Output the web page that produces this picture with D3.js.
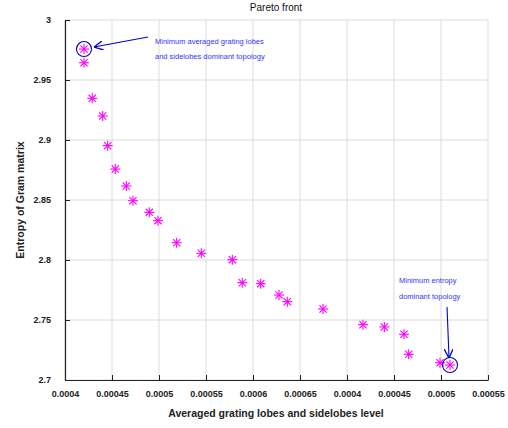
<!DOCTYPE html>
<html><head><meta charset="utf-8">
<script src="https://cdn.jsdelivr.net/npm/d3@7"></script>
<style>body{margin:0;background:#fff;}svg{display:block;font-family:"Liberation Sans",Arial,sans-serif;}</style>
</head><body>
<svg id="c" width="508" height="428"></svg>
<script>
const xValues = [0.0004202,0.0004202,0.000429,0.0004401,0.0004454,0.0004535,0.0004652,0.0004723,0.0004897,0.0004989,0.0005188,0.000545,0.000578,0.0005886,0.0006082,0.0006277,0.0006365,0.0006745,0.000717,0.0007397,0.0007606,0.0007656,0.0007989,0.0008096];
const yValues = [2.9758,2.9644,2.9347,2.9200,2.8953,2.8758,2.8617,2.8494,2.8397,2.8328,2.8144,2.8056,2.8003,2.7811,2.7803,2.7708,2.7653,2.7592,2.7461,2.7442,2.7381,2.7214,2.7144,2.7125];
const xTickValues = [0.0004,0.00045,0.0005,0.00055,0.0006,0.00065,0.0007,0.00075,0.0008,0.00085];
const xTickLabels = ["0.0004","0.00045","0.0005","0.00055","0.0006","0.00065","0.0004","0.00045","0.0005","0.00055"];
const yTickValues = [2.7,2.75,2.8,2.85,2.9,2.95,3];
const yTickLabels = ["2.7","2.75","2.8","2.85","2.9","2.95","3"];
const annotations = [
  {idx:0, lines:["Minimum averaged grating lobes","and sidelobes dominant topology"]},
  {idx:23, lines:["Minimum entropy","dominant topology"]}
];

const svg = d3.select("#c");
const x = d3.scaleLinear().domain([0.0004,0.00085]).range([65,488]);
const y = d3.scaleLinear().domain([2.7,3]).range([380,20]);

// grid
svg.append("g").selectAll("line").data(xTickValues).join("line")
  .attr("x1",d=>x(d)).attr("x2",d=>x(d)).attr("y1",20).attr("y2",380)
  .attr("stroke","#dcdcdc").attr("stroke-width",1);
svg.append("g").selectAll("line").data(yTickValues).join("line")
  .attr("y1",d=>y(d)).attr("y2",d=>y(d)).attr("x1",65).attr("x2",488)
  .attr("stroke","#dcdcdc").attr("stroke-width",1);

// axes
const xAxis = d3.axisBottom(x).tickValues(xTickValues).tickFormat((d,i)=>xTickLabels[i]).tickSizeInner(-5).tickSizeOuter(0).tickPadding(11);
const gx = svg.append("g").attr("transform","translate(0,380)").call(xAxis);
const yAxis = d3.axisLeft(y).tickValues(yTickValues).tickFormat((d,i)=>yTickLabels[i]).tickSizeInner(-5).tickSizeOuter(0).tickPadding(14);
const gy = svg.append("g").attr("transform","translate(65,0)").call(yAxis);
[gx,gy].forEach(g=>{
  g.select(".domain").attr("stroke","#222").attr("stroke-width",1.2);
  g.selectAll(".tick line").attr("stroke","#222");
  g.selectAll(".tick text").attr("fill","#222").attr("font-size","9px").attr("font-weight","bold");
});
gx.selectAll(".tick text").attr("dy","0.71em");

// markers (asterisks)
const r = 5;
const mk = svg.append("g").selectAll("g").data(xValues.map((v,i)=>[v,yValues[i]])).join("g")
  .attr("transform",d=>`translate(${x(d[0])},${y(d[1])})`)
  .attr("stroke","#ff00ff").attr("stroke-width",1.1);
[[ -r,0,r,0],[0,-r,0,r],[-r*0.72,-r*0.72,r*0.72,r*0.72],[-r*0.72,r*0.72,r*0.72,-r*0.72]].forEach(s=>{
  mk.append("line").attr("x1",s[0]).attr("y1",s[1]).attr("x2",s[2]).attr("y2",s[3]);
});

// annotations
const defs = svg.append("defs");
defs.append("marker").attr("id","ah").attr("viewBox","0 0 10 10").attr("refX",10).attr("refY",5)
  .attr("markerWidth",9).attr("markerHeight",9).attr("markerUnits","userSpaceOnUse").attr("orient","auto")
  .append("path").attr("d","M0,0 L10,5 L0,10").attr("fill","none").attr("stroke","#0000cc").attr("stroke-width",1.5);

const a0 = annotations[0], p0 = [x(xValues[a0.idx]), y(yValues[a0.idx])];
svg.append("circle").attr("cx",p0[0]).attr("cy",p0[1]).attr("r",7.5).attr("fill","none").attr("stroke","#0000cc").attr("stroke-width",1.1);
svg.append("line").attr("x1",p0[0]+64).attr("y1",p0[1]-12).attr("x2",p0[0]+10).attr("y2",p0[1]-2)
  .attr("stroke","#0000cc").attr("stroke-width",1.1).attr("marker-end","url(#ah)");
a0.lines.forEach((t,i)=>svg.append("text").attr("x",p0[0]+71).attr("y",p0[1]-5+i*15).text(t)
  .attr("font-size","7.5px").attr("fill","#3333ff"));

const a1 = annotations[1], p1 = [x(xValues[a1.idx]), y(yValues[a1.idx])];
svg.append("circle").attr("cx",p1[0]).attr("cy",p1[1]).attr("r",7.5).attr("fill","none").attr("stroke","#0000cc").attr("stroke-width",1.1);
svg.append("line").attr("x1",p1[0]-3).attr("y1",p1[1]-58).attr("x2",p1[0]-1).attr("y2",p1[1]-7)
  .attr("stroke","#0000cc").attr("stroke-width",1.1).attr("marker-end","url(#ah)");
a1.lines.forEach((t,i)=>svg.append("text").attr("x",p1[0]-51).attr("y",p1[1]-82+i*16).text(t)
  .attr("font-size","7.5px").attr("fill","#3333ff"));

// titles
svg.append("text").attr("x",276).attr("y",11).attr("text-anchor","middle").attr("font-size","10px").attr("fill","#111").text("Pareto front");
svg.append("text").attr("x",276).attr("y",417).attr("text-anchor","middle").attr("font-size","10.5px").attr("font-weight","bold").attr("fill","#222").text("Averaged grating lobes and sidelobes level");
svg.append("text").attr("transform","translate(24,200) rotate(-90)").attr("text-anchor","middle").attr("font-size","10.5px").attr("font-weight","bold").attr("fill","#222").text("Entropy of Gram matrix");
</script>
</body></html>
